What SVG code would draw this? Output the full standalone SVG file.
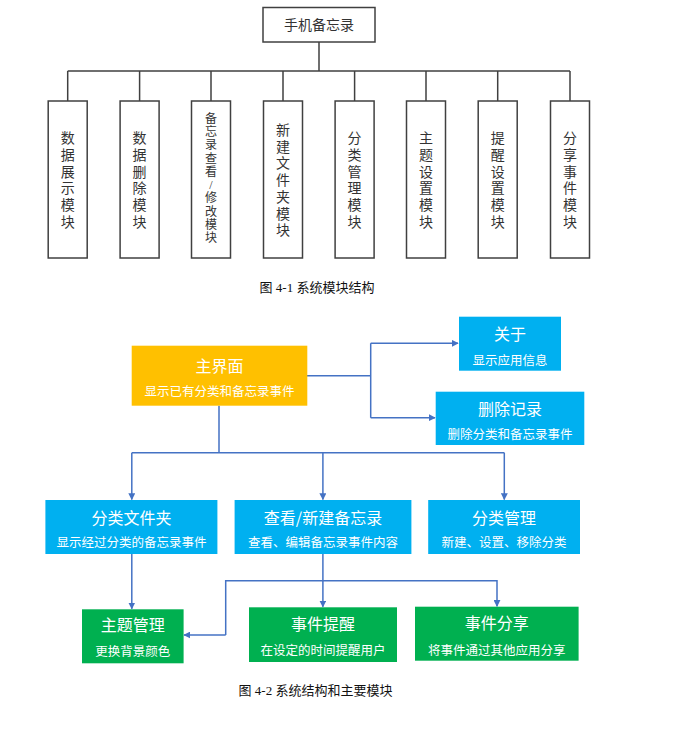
<svg xmlns="http://www.w3.org/2000/svg" width="675" height="732" viewBox="0 0 675 732">
<style>
.bg{fill:#ffffff}
.tb{fill:#ffffff;stroke:#404040;stroke-width:1.5}
.tl{fill:none;stroke:#404040;stroke-width:1.5}
.tt{font-family:"Liberation Serif","Noto Sans CJK SC",serif;font-size:14px;fill:#333333;text-anchor:middle}
.cap{font-family:"Liberation Serif","Noto Sans CJK SC",serif;font-size:13px;fill:#111111;text-anchor:middle}
.cl{fill:none;stroke:#4472C4;stroke-width:1.5}
.or{fill:#FFC000}
.bl{fill:#00B0F0}
.gr{fill:#00B050}
.h{font-family:"Noto Sans CJK SC","Noto Sans",sans-serif;font-size:16px;fill:#ffffff;text-anchor:middle}
.s{font-family:"Noto Sans CJK SC","Noto Sans",sans-serif;font-size:12.5px;fill:#ffffff;text-anchor:middle}
</style>
<defs>
<marker id="ar" viewBox="0 0 10 10" refX="9" refY="5" markerWidth="7" markerHeight="7" markerUnits="userSpaceOnUse" orient="auto">
<path d="M0,0 L10,5 L0,10 z" fill="#4472C4"/>
</marker>
</defs>
<rect class="bg" x="0" y="0" width="675" height="732"/>

<g id="connectors-top">
<path class="tl" d="M319,42 V71 M67.7,71 H570 M67.7,71 V101 M139.6,71 V101 M211,71 V101 M283,71 V101 M354.6,71 V101 M426,71 V101 M497.7,71 V101 M570,71 V101"/>
</g>
<g id="root">
<rect class="tb" x="263" y="7.5" width="112" height="34.5"/>
<text class="tt" x="319" y="30">手机备忘录</text>
</g>
<g id="m1"><rect class="tb" x="48.2" y="101" width="39" height="157"/>
<text class="tt"><tspan x="67.7" y="143.3">数</tspan><tspan x="67.7" y="160">据</tspan><tspan x="67.7" y="176.7">展</tspan><tspan x="67.7" y="193.3">示</tspan><tspan x="67.7" y="210">模</tspan><tspan x="67.7" y="226.7">块</tspan></text></g>
<g id="m2"><rect class="tb" x="120.1" y="101" width="39" height="157"/>
<text class="tt"><tspan x="139.6" y="143.3">数</tspan><tspan x="139.6" y="160">据</tspan><tspan x="139.6" y="176.7">删</tspan><tspan x="139.6" y="193.3">除</tspan><tspan x="139.6" y="210">模</tspan><tspan x="139.6" y="226.7">块</tspan></text></g>
<g id="m3"><rect class="tb" x="191.5" y="101" width="39" height="157"/>
<text class="tt" style="font-size:12px"><tspan x="211" y="122.6">备</tspan><tspan x="211" y="135.9">忘</tspan><tspan x="211" y="149.2">录</tspan><tspan x="211" y="162.5">查</tspan><tspan x="211" y="175.8">看</tspan><tspan x="211" y="189.1">/</tspan><tspan x="211" y="202.4">修</tspan><tspan x="211" y="215.7">改</tspan><tspan x="211" y="229">模</tspan><tspan x="211" y="242.3">块</tspan></text></g>
<g id="m4"><rect class="tb" x="263.5" y="101" width="39" height="157"/>
<text class="tt"><tspan x="283" y="135">新</tspan><tspan x="283" y="151.7">建</tspan><tspan x="283" y="168.4">文</tspan><tspan x="283" y="185.1">件</tspan><tspan x="283" y="201.8">夹</tspan><tspan x="283" y="218.5">模</tspan><tspan x="283" y="235.2">块</tspan></text></g>
<g id="m5"><rect class="tb" x="335.1" y="101" width="39" height="157"/>
<text class="tt"><tspan x="354.6" y="143.3">分</tspan><tspan x="354.6" y="160">类</tspan><tspan x="354.6" y="176.7">管</tspan><tspan x="354.6" y="193.3">理</tspan><tspan x="354.6" y="210">模</tspan><tspan x="354.6" y="226.7">块</tspan></text></g>
<g id="m6"><rect class="tb" x="406.5" y="101" width="39" height="157"/>
<text class="tt"><tspan x="426" y="143.3">主</tspan><tspan x="426" y="160">题</tspan><tspan x="426" y="176.7">设</tspan><tspan x="426" y="193.3">置</tspan><tspan x="426" y="210">模</tspan><tspan x="426" y="226.7">块</tspan></text></g>
<g id="m7"><rect class="tb" x="478.2" y="101" width="39" height="157"/>
<text class="tt"><tspan x="497.7" y="143.3">提</tspan><tspan x="497.7" y="160">醒</tspan><tspan x="497.7" y="176.7">设</tspan><tspan x="497.7" y="193.3">置</tspan><tspan x="497.7" y="210">模</tspan><tspan x="497.7" y="226.7">块</tspan></text></g>
<g id="m8"><rect class="tb" x="550.5" y="101" width="39" height="157"/>
<text class="tt"><tspan x="570" y="143.3">分</tspan><tspan x="570" y="160">享</tspan><tspan x="570" y="176.7">事</tspan><tspan x="570" y="193.3">件</tspan><tspan x="570" y="210">模</tspan><tspan x="570" y="226.7">块</tspan></text></g>
<text class="cap" x="317" y="292">图 4-1  系统模块结构</text>

<g id="connectors">
<path class="cl" d="M307,375.7 H370.7 M370.7,343.3 V417.7"/>
<path class="cl" d="M370.7,343.3 H458" marker-end="url(#ar)"/>
<path class="cl" d="M370.7,417.7 H435" marker-end="url(#ar)"/>
<path class="cl" d="M219,405.7 V452.7 M131.8,452.7 H504.3"/>
<path class="cl" d="M131.8,452.7 V499.5" marker-end="url(#ar)"/>
<path class="cl" d="M322.9,452.7 V499.5" marker-end="url(#ar)"/>
<path class="cl" d="M504.3,452.7 V499.5" marker-end="url(#ar)"/>
<path class="cl" d="M131.8,554 V608.8" marker-end="url(#ar)"/>
<path class="cl" d="M322.9,554 V606.8" marker-end="url(#ar)"/>
<path class="cl" d="M225.7,635 V580.7 H497 V606.2" marker-end="url(#ar)"/>
<path class="cl" d="M225.7,635 H184" marker-end="url(#ar)"/>
</g>

<g id="main"><rect class="or" x="131.7" y="345.7" width="175.6" height="60"/>
<text class="h" x="219.5" y="372">主界面</text><text class="s" x="219.5" y="395.5">显示已有分类和备忘录事件</text></g>
<g id="about"><rect class="bl" x="459" y="316.7" width="102" height="54"/>
<text class="h" x="510" y="339.5">关于</text><text class="s" x="510" y="364.5">显示应用信息</text></g>
<g id="delete"><rect class="bl" x="435.7" y="391.7" width="148.6" height="53.3"/>
<text class="h" x="510" y="414.5">删除记录</text><text class="s" x="510" y="438.8">删除分类和备忘录事件</text></g>
<g id="folder"><rect class="bl" x="45.4" y="500" width="172" height="54"/>
<text class="h" x="131.4" y="524">分类文件夹</text><text class="s" x="131.4" y="547">显示经过分类的备忘录事件</text></g>
<g id="view"><rect class="bl" x="234.6" y="500" width="176.8" height="54"/>
<text class="h" x="323" y="524">查看/新建备忘录</text><text class="s" x="323" y="547">查看、编辑备忘录事件内容</text></g>
<g id="category"><rect class="bl" x="428.2" y="500" width="151.8" height="54"/>
<text class="h" x="504.1" y="524">分类管理</text><text class="s" x="504.1" y="547">新建、设置、移除分类</text></g>
<g id="theme"><rect class="gr" x="82" y="609.3" width="101.6" height="54"/>
<text class="h" x="132.8" y="630.5">主题管理</text><text class="s" x="132.8" y="656">更换背景颜色</text></g>
<g id="remind"><rect class="gr" x="249" y="607.3" width="148" height="54.7"/>
<text class="h" x="323" y="629.5">事件提醒</text><text class="s" x="323" y="655">在设定的时间提醒用户</text></g>
<g id="share"><rect class="gr" x="415" y="606.7" width="163.6" height="54"/>
<text class="h" x="496.8" y="629">事件分享</text><text class="s" x="496.8" y="654.5">将事件通过其他应用分享</text></g>
<text class="cap" x="315.5" y="695">图 4-2  系统结构和主要模块</text>
</svg>
